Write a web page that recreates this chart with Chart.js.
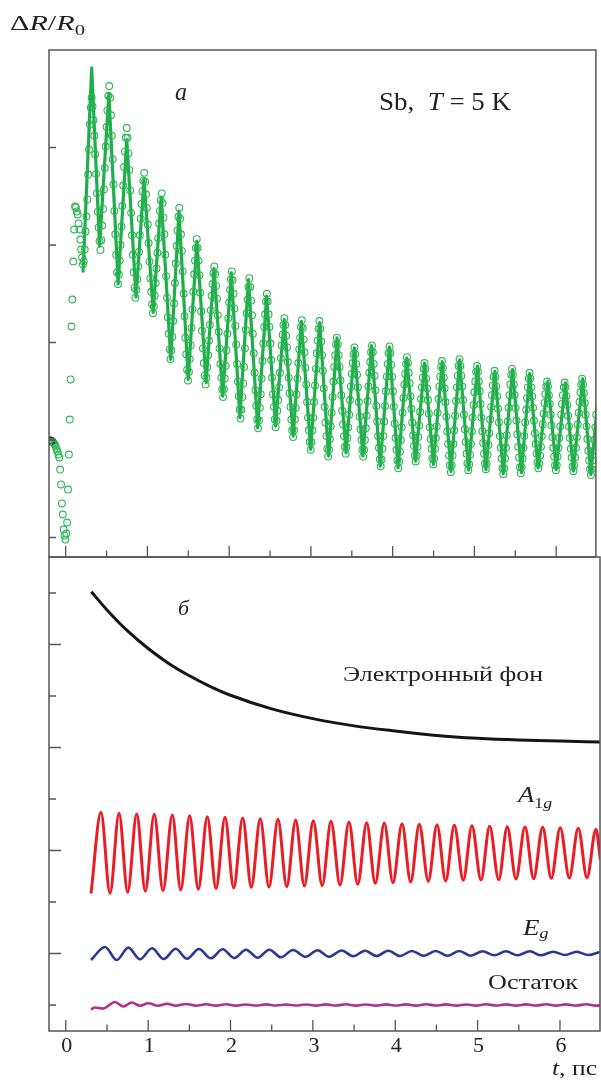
<!DOCTYPE html>
<html>
<head>
<meta charset="utf-8">
<script src="https://cdn.jsdelivr.net/npm/chart.js@4.4.1/dist/chart.umd.min.js"></script>
<style>
  html, body { margin: 0; padding: 0; background: #fff; }
  #wrap { position: relative; width: 601px; height: 1086px; }
  canvas { position: absolute; left: 0; top: 0; }
</style>
</head>
<body>
<div id="wrap">
  <canvas id="cA" width="601" height="1086"></canvas>
  <canvas id="cB" width="601" height="1086"></canvas>
</div>
<script>
// ---------------- DATA ----------------
// Panel a: fitted curve (extrema), time in ps
const fitT = [0.212, 0.318, 0.415, 0.528, 0.642, 0.747, 0.861, 0.958, 1.071, 1.168, 1.286, 1.386, 1.499, 1.605, 1.718, 1.815, 1.921, 2.026, 2.131, 2.236, 2.349, 2.458, 2.568, 2.673, 2.783, 2.883, 2.997, 3.107, 3.216, 3.320, 3.430, 3.532, 3.636, 3.742, 3.847, 3.960, 4.066, 4.173, 4.280, 4.391, 4.498, 4.606, 4.713, 4.819, 4.928, 5.037, 5.141, 5.251, 5.353, 5.466, 5.575, 5.676, 5.778, 5.899, 6.000, 6.113, 6.210, 6.324, 6.425, 6.530];
const fitV = [2.718, 4.817, 2.988, 4.551, 2.602, 4.082, 2.465, 3.672, 2.308, 3.492, 1.826, 3.347, 1.621, 3.039, 1.587, 2.759, 1.449, 2.715, 1.228, 2.646, 1.125, 2.475, 1.142, 2.236, 1.039, 2.218, 0.903, 2.205, 0.834, 2.048, 0.869, 1.946, 0.834, 1.969, 0.731, 1.954, 0.715, 1.843, 0.783, 1.788, 0.749, 1.805, 0.675, 1.822, 0.690, 1.757, 0.697, 1.706, 0.656, 1.723, 0.664, 1.682, 0.715, 1.603, 0.697, 1.587, 0.680, 1.628, 0.646, 1.62];

// Panel a: measured points (open circles). Uniform time grid; the second
// list is the set of samples lying half a step later.
const circT0 = -0.1963;
const circDt = 0.021428;
const circV = [
  0.995, 0.99, 0.974, 0.954, 0.903, 0.851, 0.697, 0.349, 0.082, -0.021, 0.154, 0.851, 1.621, 2.441, 3.159, 3.385, 3.313, 3.159, 2.954, 2.80, 2.954, 3.292, 3.723, 4.236,
  4.51, 4.28, 3.93, 3.53, 3.18,
  2.95, 3.20, 3.57, 4.01, 4.38,
  4.63, 4.33, 3.88, 3.35, 2.90,
  2.60, 2.84, 3.19, 3.61, 3.96,
  4.20, 3.94, 3.56, 3.10, 2.72,
  2.46, 2.65, 2.93, 3.27, 3.55,
  3.74, 3.52, 3.21, 2.83, 2.52,
  2.30, 2.48, 2.76, 3.07, 3.35,
  3.53, 3.28, 2.90, 2.46, 2.09,
  1.83, 2.06, 2.40, 2.81, 3.15,
  3.38, 3.11, 2.73, 2.27, 1.88,
  1.61, 1.83, 2.15, 2.52, 2.84,
  3.06, 2.84, 2.51, 2.12, 1.79,
  1.57, 1.75, 2.02, 2.33, 2.60,
  2.78, 2.58, 2.28, 1.94, 1.64,
  1.44, 1.63, 1.92, 2.25, 2.54,
  2.73, 2.50, 2.17, 1.78, 1.45,
  1.22, 1.44, 1.75, 2.13, 2.44,
  2.66, 2.43, 2.09, 1.69, 1.35,
  1.12, 1.33, 1.63, 1.99, 2.29,
  2.50, 2.29, 1.99, 1.64, 1.34,
  1.13, 1.30, 1.54, 1.84, 2.08,
  2.25, 2.07, 1.80, 1.48, 1.21,
  1.03, 1.21, 1.47, 1.79, 2.05,
  2.23, 2.03, 1.74, 1.39, 1.10,
  0.90, 1.10, 1.39, 1.73, 2.02,
  2.22, 2.01, 1.71, 1.34, 1.04,
  0.83, 1.01, 1.28, 1.60, 1.87,
  2.05, 1.87, 1.61, 1.30, 1.04,
  0.86, 1.02, 1.26, 1.55, 1.79,
  1.95, 1.78, 1.54, 1.24, 1.00,
  0.83, 1.00, 1.25, 1.55, 1.80,
  1.97, 1.78, 1.51, 1.19, 0.92,
  0.73, 0.91, 1.19, 1.50, 1.78,
  1.96, 1.77, 1.50, 1.17, 0.90,
  0.71, 0.88, 1.13, 1.43, 1.68,
  1.85, 1.69, 1.45, 1.18, 0.94,
  0.78, 0.93, 1.15, 1.42, 1.64,
  1.79, 1.63, 1.41, 1.13, 0.91,
  0.75, 0.91, 1.14, 1.42, 1.65,
  1.81, 1.64, 1.39, 1.09, 0.84,
  0.67, 0.84, 1.10, 1.40, 1.66,
  1.83, 1.66, 1.41, 1.11, 0.86,
  0.69, 0.85, 1.09, 1.36, 1.60,
  1.76, 1.60, 1.37, 1.09, 0.86,
  0.70, 0.85, 1.07, 1.34, 1.56,
  1.71, 1.55, 1.32, 1.04, 0.81,
  0.65, 0.81, 1.05, 1.33, 1.57,
  1.73, 1.57, 1.33, 1.06, 0.82,
  0.66, 0.81, 1.04, 1.31, 1.54,
  1.69, 1.54, 1.33, 1.07, 0.86,
  0.71, 0.84, 1.04, 1.27, 1.47,
  1.60, 1.46, 1.26, 1.03, 0.83,
  0.69, 0.83, 1.02, 1.26, 1.46,
  1.59, 1.45, 1.25, 1.02, 0.82,
  0.68, 0.82, 1.03, 1.28, 1.49,
  1.63, 1.48, 1.26, 1.01, 0.79,
  0.64, 0.79, 1.00, 1.26
];
const circVB = [
  0.995, 0.985, 0.964, 0.933, 0.882, 0.821, 0.544, 0.236, 0.021, 0.041, 0.492, 1.21, 2.164, 2.831, 3.395, 3.344, 3.221, 3.056, 2.872, 2.831, 3.138, 3.467, 3.979, 4.41,
  4.42, 4.12, 3.73, 3.34, 3.04,
  3.05, 3.37, 3.79, 4.21, 4.53,
  4.51, 4.12, 3.62, 3.11, 2.72,
  2.70, 3.00, 3.40, 3.80, 4.10,
  4.10, 3.77, 3.33, 2.90, 2.56,
  2.54, 2.78, 3.10, 3.42, 3.66,
  3.65, 3.38, 3.02, 2.66, 2.39,
  2.37, 2.61, 2.92, 3.22, 3.46,
  3.43, 3.11, 2.68, 2.26, 1.93,
  1.92, 2.22, 2.61, 2.99, 3.29,
  3.27, 2.94, 2.50, 2.05, 1.72,
  1.70, 1.97, 2.34, 2.70, 2.97,
  2.97, 2.69, 2.32, 1.94, 1.66,
  1.64, 1.87, 2.18, 2.48, 2.71,
  2.70, 2.45, 2.11, 1.78, 1.52,
  1.52, 1.76, 2.09, 2.41, 2.65,
  2.64, 2.35, 1.98, 1.60, 1.31,
  1.31, 1.58, 1.94, 2.30, 2.57,
  2.57, 2.28, 1.89, 1.51, 1.21,
  1.20, 1.47, 1.81, 2.16, 2.42,
  2.42, 2.16, 1.82, 1.47, 1.21,
  1.20, 1.41, 1.69, 1.97, 2.18,
  2.18, 1.95, 1.64, 1.34, 1.10,
  1.10, 1.33, 1.63, 1.93, 2.16,
  2.15, 1.90, 1.57, 1.23, 0.98,
  0.98, 1.23, 1.56, 1.89, 2.14,
  2.14, 1.87, 1.53, 1.18, 0.91,
  0.90, 1.14, 1.44, 1.75, 1.98,
  1.98, 1.75, 1.46, 1.16, 0.93,
  0.93, 1.13, 1.41, 1.68, 1.88,
  1.88, 1.67, 1.39, 1.11, 0.90,
  0.90, 1.12, 1.40, 1.69, 1.90,
  1.90, 1.66, 1.35, 1.04, 0.80,
  0.80, 1.04, 1.35, 1.65, 1.89,
  1.89, 1.65, 1.34, 1.02, 0.79,
  0.78, 1.00, 1.28, 1.57, 1.78,
  1.79, 1.58, 1.32, 1.05, 0.84,
  0.84, 1.03, 1.29, 1.54, 1.73,
  1.73, 1.53, 1.27, 1.01, 0.81,
  0.81, 1.02, 1.28, 1.55, 1.75,
  1.74, 1.53, 1.24, 0.96, 0.74,
  0.74, 0.96, 1.25, 1.54, 1.76,
  1.76, 1.55, 1.26, 0.98, 0.76,
  0.75, 0.96, 1.23, 1.49, 1.70,
  1.70, 1.50, 1.23, 0.97, 0.76,
  0.76, 0.95, 1.21, 1.46, 1.65,
  1.65, 1.45, 1.18, 0.92, 0.71,
  0.71, 0.92, 1.19, 1.46, 1.67,
  1.67, 1.46, 1.20, 0.93, 0.72,
  0.72, 0.92, 1.18, 1.43, 1.63,
  1.63, 1.45, 1.20, 0.96, 0.77,
  0.76, 0.93, 1.16, 1.38, 1.55,
  1.55, 1.37, 1.15, 0.92, 0.74,
  0.74, 0.92, 1.14, 1.37, 1.54,
  1.54, 1.36, 1.14, 0.91, 0.73,
  0.74, 0.92, 1.16, 1.39, 1.57,
  1.57, 1.38, 1.14, 0.89, 0.70,
  0.70, 0.89, 1.13
];

// Panel б: electronic background
const bgT = [0.31, 0.5, 0.75, 1.0, 1.25, 1.5, 1.75, 2.0, 2.5, 3.0, 3.5, 4.0, 4.5, 5.0, 5.5, 6.0, 6.5];
const bgV = [8.025, 7.672, 7.264, 6.922, 6.631, 6.392, 6.188, 6.014, 5.751, 5.561, 5.420, 5.32, 5.235, 5.18, 5.146, 5.126, 5.107];

// Panel б: A1g component (extrema)
const a1gT = [0.306, 0.427, 0.537, 0.646, 0.751, 0.861, 0.965, 1.074, 1.180, 1.293, 1.395, 1.504, 1.609, 1.718, 1.824, 1.933, 2.038, 2.148, 2.252, 2.361, 2.467, 2.576, 2.682, 2.791, 2.896, 3.005, 3.113, 3.220, 3.329, 3.438, 3.544, 3.653, 3.757, 3.867, 3.972, 4.082, 4.187, 4.292, 4.401, 4.507, 4.612, 4.717, 4.826, 4.931, 5.041, 5.146, 5.256, 5.360, 5.466, 5.575, 5.680, 5.790, 5.894, 6.003, 6.113, 6.222, 6.328, 6.437, 6.491];
const a1gV = [2.165, 3.742, 2.169, 3.722, 2.188, 3.709, 2.208, 3.703, 2.219, 3.689, 2.233, 3.676, 2.247, 3.656, 2.258, 3.645, 2.272, 3.631, 2.285, 3.617, 2.291, 3.606, 2.297, 3.592, 2.311, 3.579, 2.317, 3.567, 2.330, 3.553, 2.344, 3.540, 2.363, 3.534, 2.375, 3.520, 2.388, 3.509, 2.402, 3.501, 2.408, 3.489, 2.421, 3.482, 2.427, 3.470, 2.433, 3.462, 2.447, 3.456, 2.452, 3.450, 2.460, 3.443, 2.466, 3.431, 2.472, 3.412, 2.816];

// Panel б: Eg component (extrema)
const egT = [0.306, 0.476, 0.618, 0.759, 0.901, 1.047, 1.189, 1.334, 1.471, 1.617, 1.759, 1.905, 2.046, 2.188, 2.330, 2.471, 2.613, 2.758, 2.912, 3.056, 3.195, 3.350, 3.490, 3.632, 3.774, 3.915, 4.057, 4.203, 4.345, 4.491, 4.636, 4.777, 4.919, 5.061, 5.202, 5.344, 5.486, 5.635, 5.769, 5.918, 6.060, 6.203, 6.343, 6.485];
const egV = [0.874, 1.126, 0.874, 1.113, 0.887, 1.101, 0.893, 1.093, 0.899, 1.087, 0.907, 1.082, 0.913, 1.074, 0.918, 1.074, 0.926, 1.068, 0.936, 1.062, 0.938, 1.058, 0.946, 1.054, 0.951, 1.054, 0.951, 1.049, 0.957, 1.049, 0.957, 1.049, 0.957, 1.043, 0.965, 1.043, 0.965, 1.043, 0.965, 1.035, 0.971, 1.035, 0.971, 1.029];

// Panel б: residual
const resT = [0.306, 0.354, 0.452, 0.597, 0.698, 0.800, 0.901, 1.002, 1.119, 1.229, 1.338, 1.460, 1.581, 1.702, 1.824, 1.945, 2.066, 2.188, 2.310, 2.431, 2.552, 2.674, 2.795, 2.916, 3.037, 3.159, 3.280, 3.402, 3.523, 3.645, 3.766, 3.888, 4.009, 4.131, 4.252, 4.374, 4.495, 4.617, 4.738, 4.860, 4.981, 5.103, 5.224, 5.346, 5.467, 5.589, 5.710, 5.832, 5.953, 6.075, 6.196, 6.318, 6.439, 6.560];
const resV = [-0.087, -0.049, -0.068, 0.058, -0.029, 0.049, -0.016, 0.033, -0.016, 0.025, -0.014, 0.019, -0.014, 0.014, -0.012, 0.014, -0.012, 0.010, -0.010, 0.012, -0.010, 0.008, -0.010, 0.010, -0.012, 0.012, -0.010, 0.014, -0.012, 0.010, -0.012, 0.012, -0.010, 0.012, -0.012, 0.014, -0.010, 0.012, -0.012, 0.010, -0.012, 0.014, -0.010, 0.012, -0.012, 0.012, -0.010, 0.014, -0.012, 0.012, -0.010, 0.014, -0.012, 0.010];

// Ticks
const xMajorTicks = [0, 1, 2, 3, 4, 5, 6];
const xTickLabels = ['0', '1', '2', '3', '4', '5', '6'];
const xMinorTicks = [0.5, 1.5, 2.5, 3.5, 4.5, 5.5];
const yTicksA = [0, 1, 2, 3, 4];
const yTicksB = [0, 1, 2, 3, 4, 5, 6, 7, 8];

// ---------------- STYLE / HELPERS ----------------
const SERIF = '"Liberation Serif", "Times New Roman", serif';
const TXT = '#222';
const FRAME = '#555';
const pts = (xs, ys) => xs.map((x, i) => ({ x: x, y: ys[i] }));
const circData = circV.map((v, i) => ({ x: circT0 + i * circDt, y: v }));
const circDataB = circVB.map((v, i) => ({ x: circT0 + (i + 0.5) * circDt, y: v }));

function drawRuns(ctx, x, y, w, runs, color) {
  ctx.save();
  ctx.fillStyle = color || TXT;
  ctx.textBaseline = 'alphabetic';
  ctx.textAlign = 'left';
  let total = 0;
  const widths = runs.map(r => { ctx.font = r.f; const m = ctx.measureText(r.t).width; total += m; return m; });
  const s = w ? w / total : 1;
  ctx.translate(x, y);
  ctx.scale(s, 1);
  let cx = 0;
  runs.forEach((r, i) => { ctx.font = r.f; ctx.fillText(r.t, cx, r.dy || 0); cx += widths[i]; });
  ctx.restore();
}

function drawFrame(chart, yTicks, yLen) {
  const ctx = chart.ctx, a = chart.chartArea, xs = chart.scales.x, ys = chart.scales.y;
  ctx.save();
  ctx.strokeStyle = FRAME;
  ctx.lineWidth = 1.5;
  ctx.strokeRect(a.left, a.top, a.right - a.left, a.bottom - a.top);
  ctx.lineWidth = 1.3;
  ctx.beginPath();
  xMajorTicks.forEach(t => { const px = xs.getPixelForValue(t); ctx.moveTo(px, a.bottom); ctx.lineTo(px, a.bottom - 11); });
  xMinorTicks.forEach(t => { const px = xs.getPixelForValue(t); ctx.moveTo(px, a.bottom); ctx.lineTo(px, a.bottom - 6.5); });
  yTicks.forEach(v => { const py = ys.getPixelForValue(v); ctx.moveTo(a.left, py); ctx.lineTo(a.left + yLen(v), py); });
  ctx.stroke();
  ctx.restore();
}

const baseOpts = (pad, ymin, ymax) => ({
  responsive: false,
  animation: false,
  devicePixelRatio: 1,
  events: [],
  layout: { padding: pad },
  plugins: { legend: { display: false }, tooltip: { enabled: false } },
  scales: {
    x: { type: 'linear', min: -0.204, max: 6.486, display: false },
    y: { type: 'linear', min: ymin, max: ymax, display: false }
  }
});

// ---------------- PANEL a ----------------
const GREEN = '#1fae4b';
const GREEN_C = '#2bb553';
const circStyle = {
  showLine: false, pointRadius: 3.4, pointBorderWidth: 1.1,
  pointBackgroundColor: 'rgba(0,0,0,0)'
};
new Chart(document.getElementById('cA'), {
  type: 'line',
  data: {
    datasets: [
      {
        data: pts(fitT, fitV), borderColor: GREEN, borderWidth: 3.2, pointRadius: 0,
        tension: 0, fill: false, borderJoinStyle: 'round', order: 3
      },
      Object.assign({ data: circData, order: 1,
        pointBorderColor: c => (c.dataIndex < 2 ? '#333' : GREEN_C) }, circStyle),
      Object.assign({ data: circDataB, order: 2,
        pointBorderColor: c => (c.dataIndex < 1 ? '#333' : GREEN_C) }, circStyle)
    ]
  },
  options: baseOpts({ left: 49, top: 50, right: 1, bottom: 529 }, -0.2, 5.0),
  plugins: [{
    id: 'frameA',
    afterDraw(chart) {
      drawFrame(chart, yTicksA, () => 7);
      const ctx = chart.ctx;
      drawRuns(ctx, 10, 30, 75, [
        { t: 'Δ', f: '22px ' + SERIF },
        { t: 'R', f: 'italic 22px ' + SERIF },
        { t: '/', f: '22px ' + SERIF },
        { t: 'R', f: 'italic 22px ' + SERIF },
        { t: '0', f: '15px ' + SERIF, dy: 5 }
      ]);
      drawRuns(ctx, 175, 100, 12, [{ t: 'a', f: 'italic 26px ' + SERIF }]);
      drawRuns(ctx, 379, 110, 132, [
        { t: 'Sb,  ', f: '25px ' + SERIF },
        { t: 'T', f: 'italic 25px ' + SERIF },
        { t: ' = 5 K', f: '25px ' + SERIF }
      ]);
    }
  }]
});

// ---------------- PANEL б ----------------
new Chart(document.getElementById('cB'), {
  type: 'line',
  data: {
    datasets: [
      { data: pts(bgT, bgV), borderColor: '#151515', borderWidth: 3, pointRadius: 0, cubicInterpolationMode: 'monotone', fill: false },
      { data: pts(a1gT, a1gV), borderColor: '#ec1c24', borderWidth: 3, pointRadius: 0, cubicInterpolationMode: 'monotone', fill: false },
      { data: pts(egT, egV), borderColor: '#2b3990', borderWidth: 2.6, pointRadius: 0, cubicInterpolationMode: 'monotone', fill: false },
      { data: pts(resT, resV), borderColor: '#b0308e', borderWidth: 2.6, pointRadius: 0, cubicInterpolationMode: 'monotone', fill: false }
    ]
  },
  options: baseOpts({ left: 49, top: 557, right: 1, bottom: 55 }, -0.505, 8.699),
  plugins: [{
    id: 'frameB',
    afterDraw(chart) {
      drawFrame(chart, yTicksB, v => (v % 2 === 1 ? 12 : 7));
      const ctx = chart.ctx, xs = chart.scales.x;
      ctx.save();
      ctx.fillStyle = TXT;
      ctx.font = '22px ' + SERIF;
      ctx.textAlign = 'center';
      ctx.textBaseline = 'alphabetic';
      xMajorTicks.forEach((t, i) => ctx.fillText(xTickLabels[i], xs.getPixelForValue(t) + 1, 1051.5));
      ctx.restore();
      drawRuns(ctx, 178, 615, 11, [{ t: 'б', f: 'italic 22px ' + SERIF }]);
      drawRuns(ctx, 343, 681, 200, [{ t: 'Электронный фон', f: '21.5px ' + SERIF }]);
      drawRuns(ctx, 518, 801.7, 34, [
        { t: 'A', f: 'italic 22.5px ' + SERIF },
        { t: '1', f: '15px ' + SERIF, dy: 6 },
        { t: 'g', f: 'italic 15px ' + SERIF, dy: 6 }
      ]);
      drawRuns(ctx, 523, 935, 25.5, [
        { t: 'E', f: 'italic 22.5px ' + SERIF },
        { t: 'g', f: 'italic 15px ' + SERIF, dy: 3 }
      ]);
      drawRuns(ctx, 488, 989.3, 90, [{ t: 'Остаток', f: '22px ' + SERIF }]);
      drawRuns(ctx, 552, 1075, 45, [
        { t: 't', f: 'italic 22px ' + SERIF },
        { t: ', пс', f: '22px ' + SERIF }
      ]);
    }
  }]
});
</script>
</body>
</html>
